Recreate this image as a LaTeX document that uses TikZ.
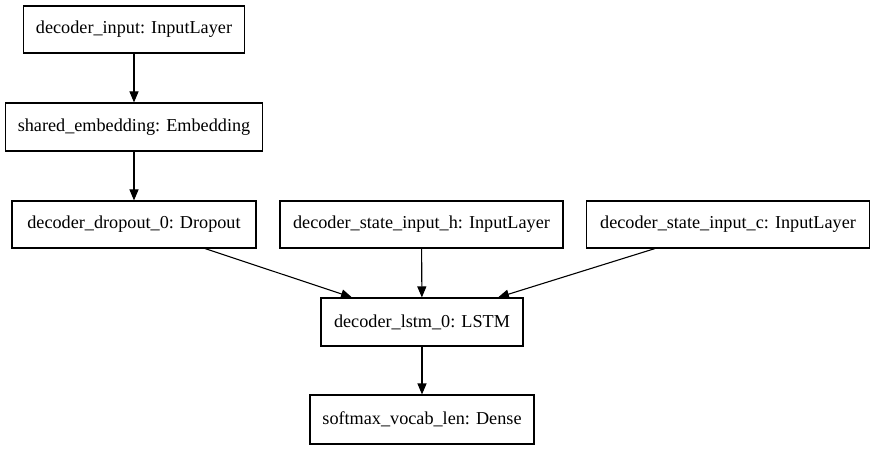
\documentclass[tikz,border=0pt]{standalone}
\usepackage{fontspec}
\setmainfont{Liberation Serif}
\usetikzlibrary{arrows.meta}
\begin{document}
\begin{tikzpicture}[x=1pt,y=-1pt,
  layer/.style={draw=black,line width=1.1pt,inner sep=0pt,font=\fontsize{18.2}{20}\selectfont},
  edge/.style={line width=1.1pt,-{Triangle[length=11pt,width=9pt]}}]
\useasboundingbox (0,0) rectangle (875,449);
\node[layer,minimum width=221,minimum height=47] (din) at (134,29.5) {decoder\_input: InputLayer};
\node[layer,minimum width=257,minimum height=48] (emb) at (134,127) {shared\_embedding: Embedding};
\node[layer,minimum width=244,minimum height=47] (drop) at (134,224.5) {decoder\_dropout\_0: Dropout};
\node[layer,minimum width=283,minimum height=47] (sh) at (421.5,224.5) {decoder\_state\_input\_h: InputLayer};
\node[layer,minimum width=283,minimum height=47] (sc) at (728,224.5) {decoder\_state\_input\_c: InputLayer};
\node[layer,minimum width=202,minimum height=48] (lstm) at (422,322) {decoder\_lstm\_0: LSTM};
\node[layer,minimum width=224,minimum height=49] (soft) at (422,419.5) {softmax\_vocab\_len: Dense};
\draw[edge] (din) -- (emb);
\draw[edge] (emb) -- (drop);
\draw[edge] (drop.south -| 205,0) -- (lstm.north -| 352,0);
\draw[edge] (sh) -- (lstm);
\draw[edge] (sc.south -| 655,0) -- (lstm.north -| 498,0);
\draw[edge] (lstm) -- (soft);
\end{tikzpicture}
\end{document}
